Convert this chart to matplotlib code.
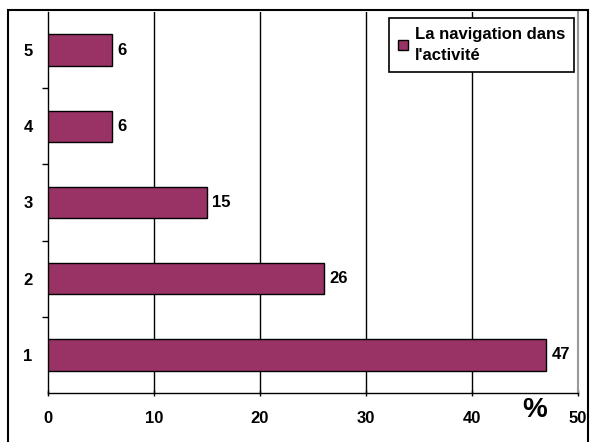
import matplotlib
matplotlib.use("Agg")
import matplotlib.pyplot as plt
from matplotlib.patches import Rectangle

categories = ["1", "2", "3", "4", "5"]
values = [47, 26, 15, 6, 6]
series_name = "La navigation dans\nl'activité"
x_ticks = [0, 10, 20, 30, 40, 50]

plt.rcParams['font.family'] = ['Liberation Sans', 'DejaVu Sans']
plt.rcParams['font.weight'] = 'bold'

fig = plt.figure(figsize=(5.9, 4.42), dpi=100)
ax = fig.add_axes([48/590, 49/442, 530/590, 381/442])

ypos = list(range(len(categories)))
bars = ax.barh(ypos, values, height=0.41, color='#993366', edgecolor='black',
               linewidth=1, label=series_name, zorder=3)
for b, v in zip(bars, values):
    ax.text(b.get_width() + 0.5, b.get_y() + b.get_height() / 2, str(v),
            va='center', ha='left', fontsize=12, fontweight='bold')

ax.set_xlim(0, 50)
ax.set_ylim(-0.5, len(categories) - 0.5)
ax.set_xticks(x_ticks)
ax.set_xticklabels([str(t) for t in x_ticks], fontsize=12, fontweight='bold')
ax.set_yticks(ypos)
ax.set_yticklabels(categories, fontsize=12, fontweight='bold')
ax.tick_params(axis='y', length=0, pad=11)
ax.set_yticks([i + 0.5 for i in range(len(categories) - 1)], minor=True)
ax.tick_params(axis='y', which='minor', length=4, direction='out', width=1)
ax.tick_params(axis='x', length=4, direction='inout', width=1, pad=11)

for x in x_ticks[1:-1]:
    ax.axvline(x, color='black', linewidth=1, zorder=1)

ax.spines['top'].set_visible(False)
ax.spines['right'].set_color('#999999')
ax.spines['right'].set_linewidth(1.5)
ax.spines['left'].set_linewidth(1)
ax.spines['bottom'].set_linewidth(1)

fig.text(535/590, 1 - 410/442, "%", fontsize=20, fontweight='bold',
         ha='center', va='center')

leg = ax.legend(loc='upper right', bbox_to_anchor=(574/590, 1 - 18/442),
                bbox_transform=fig.transFigure, fontsize=12, frameon=True,
                fancybox=False, framealpha=1, edgecolor='black',
                handlelength=0.6, handleheight=0.6, handletextpad=0.4,
                borderpad=0.55, labelspacing=0.2, borderaxespad=0)
leg.get_frame().set_linewidth(1.2)
for t in leg.get_texts():
    t.set_fontweight('bold')
    t.set_linespacing(1.45)

fig.patches.append(Rectangle((8/590, -0.02), 580/590, 1 - 10/442 + 0.02,
                             transform=fig.transFigure, fill=False,
                             edgecolor='black', linewidth=1.5))

fig.savefig("out.png", dpi=100)
